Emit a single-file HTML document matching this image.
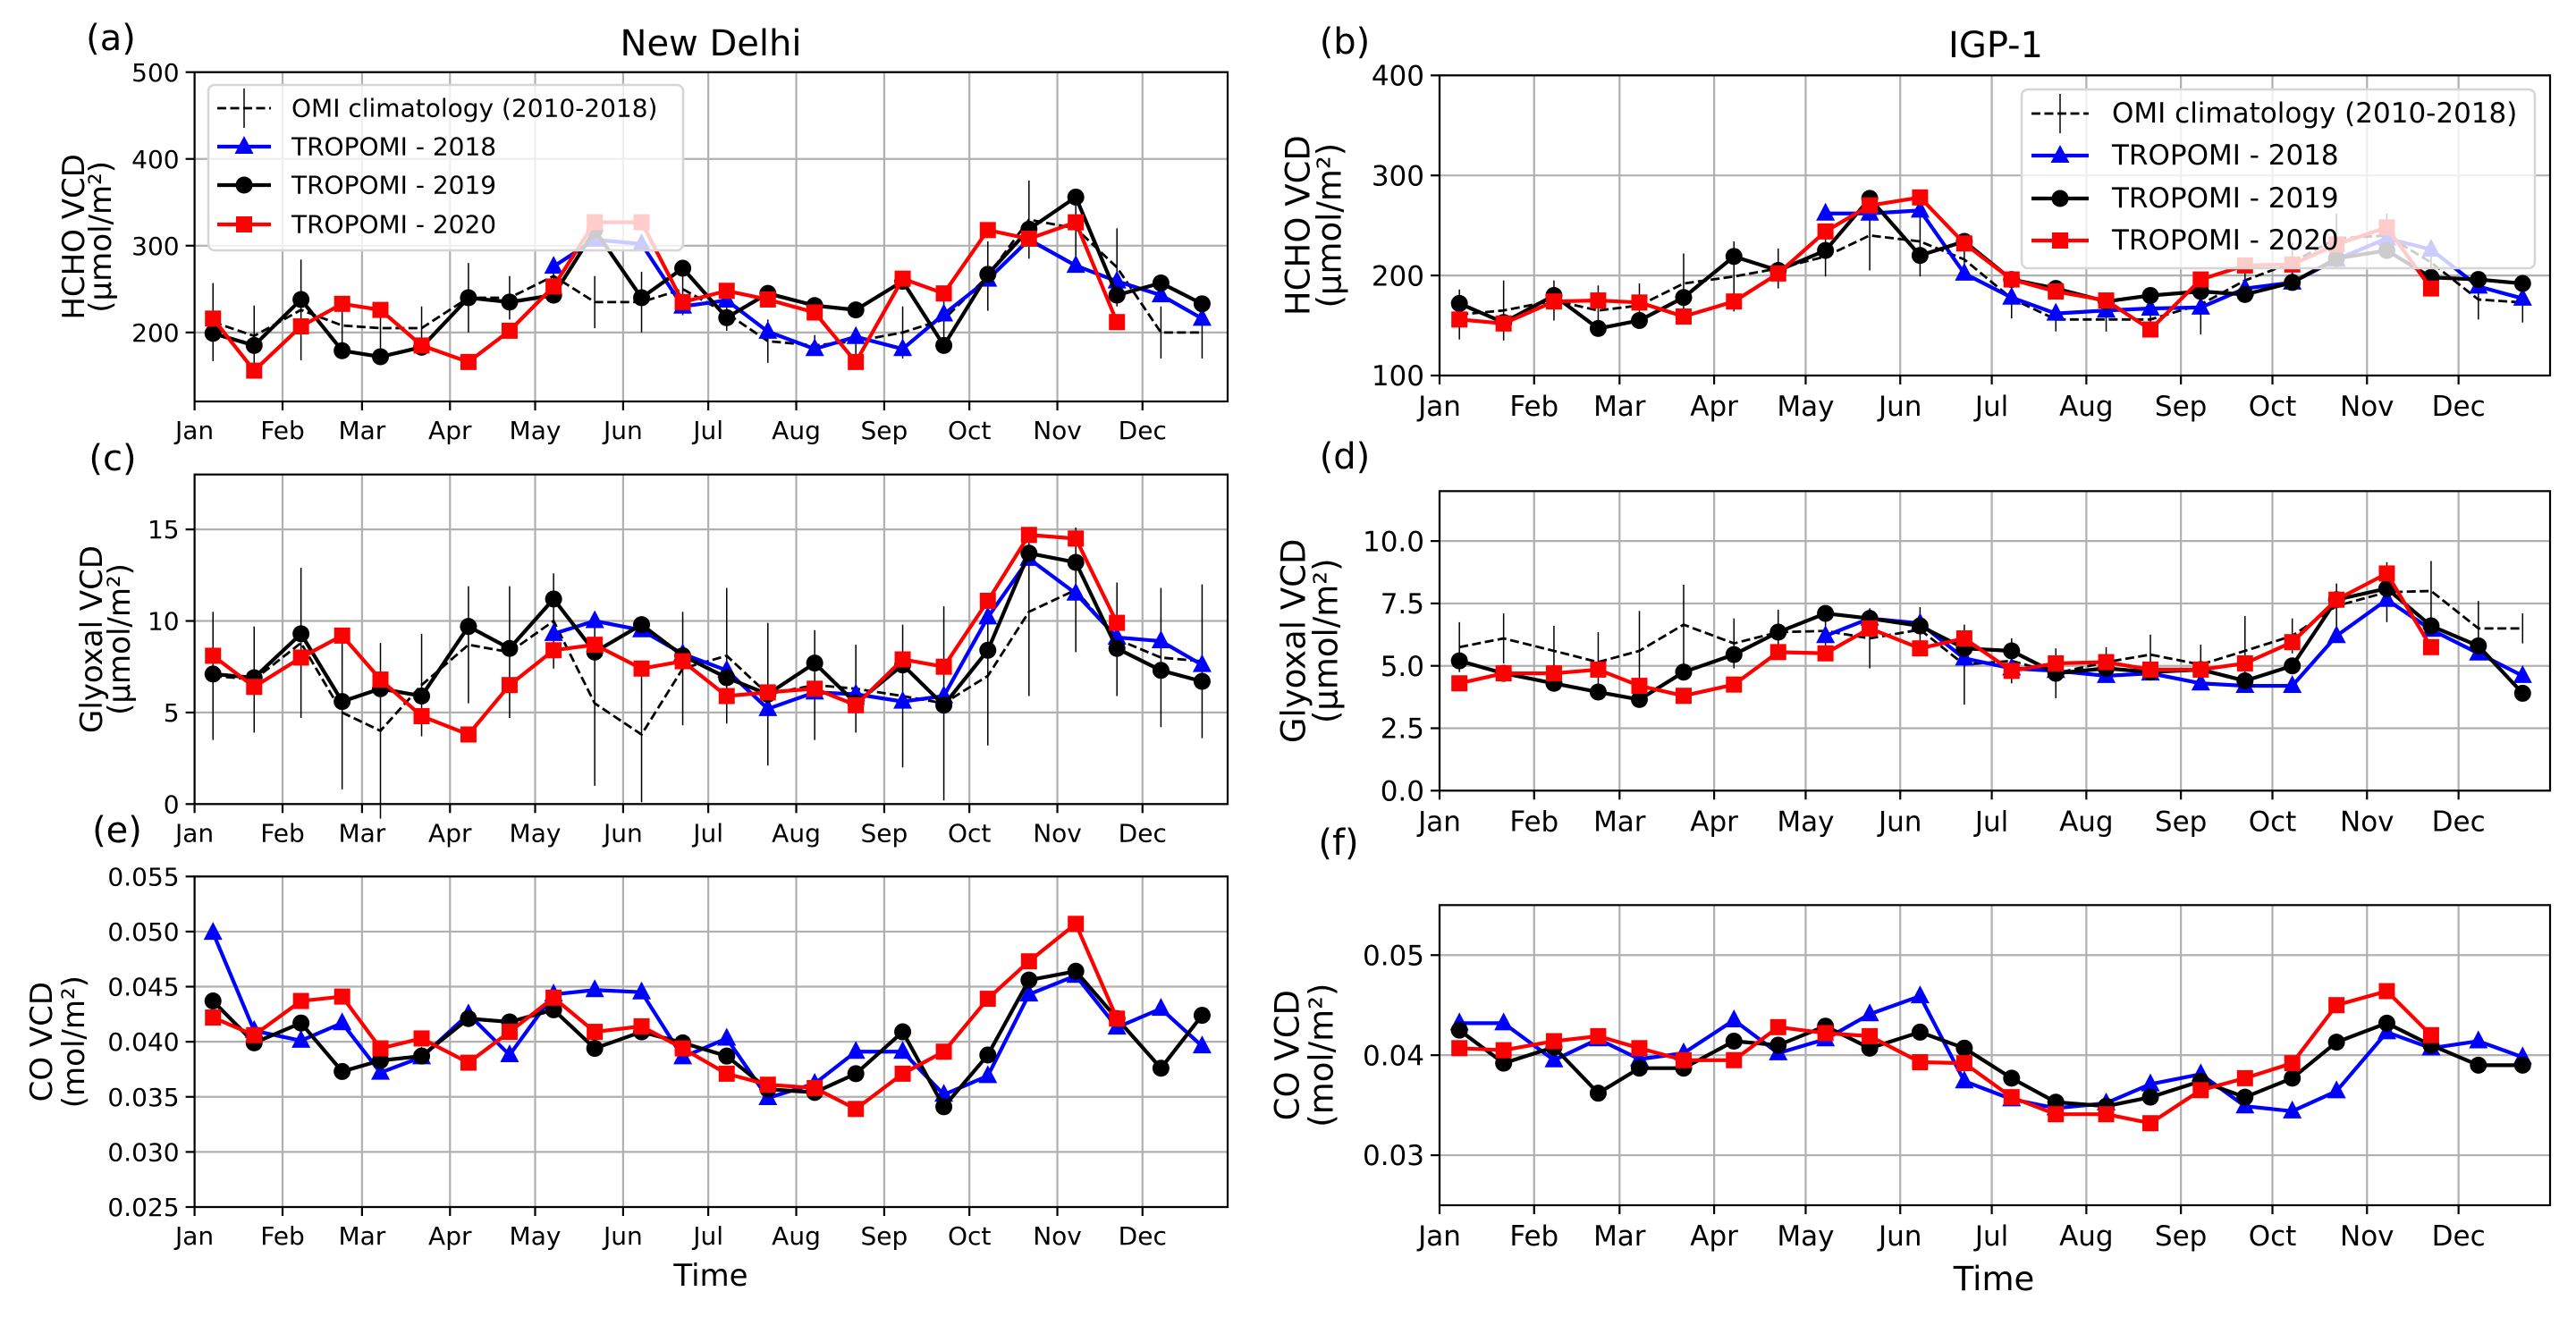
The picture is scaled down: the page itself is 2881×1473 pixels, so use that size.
<!DOCTYPE html>
<html><head><meta charset="utf-8"><style>
html,body{margin:0;padding:0;background:#fff;}
svg{display:block;font-family:"DejaVu Sans","Liberation Sans",sans-serif;}
</style></head><body>
<svg id="fig" width="2881" height="1473" viewBox="0 0 2881 1473" xmlns="http://www.w3.org/2000/svg"></svg>
<script>
// ---- data ----
const months = ["Jan","Feb","Mar","Apr","May","Jun","Jul","Aug","Sep","Oct","Nov","Dec"];
const monthStart = [0,31,59,90,120,151,181,212,243,273,304,334];
// sample days: two per month (~6th and ~21st)
const sampleOffsets = [6.5, 21];

// (a) New Delhi HCHO
const a_clim = [212,196,226,208,205,205,240,240,265,235,235,250,222,190,185,190,200,215,265,330,320,275,200,200];
const a_climErr = [45,35,58,25,25,25,40,25,20,30,35,30,20,25,12,15,30,25,40,45,45,45,30,30];
const a_2018 = [null,null,null,null,null,null,null,null,276,307,302,230,237,201,181,195,181,221,261,307,277,259,243,216];
const a_2019 = [199,185,238,179,172,183,240,235,243,318,240,274,217,245,231,226,259,185,267,319,356,243,257,233];
const a_2020 = [216,156,207,233,226,185,166,202,253,327,327,235,248,238,223,166,262,245,318,308,327,212,null,null];

// (b) IGP-1 HCHO
const b_clim = [161,165,175,165,170,192,199,207,219,240,234,216,177,156,156,156,171,195,213,237,240,213,176,173];
const b_climErr = [25,30,20,25,22,30,35,20,20,35,35,15,20,12,12,15,30,20,20,25,22,20,20,20];
const b_2018 = [null,null,null,null,null,null,null,null,262,262,265,202,178,162,165,167,168,187,193,216,237,226,189,177];
const b_2019 = [172,153,180,147,155,178,219,205,225,277,220,234,196,187,174,180,184,181,193,217,225,198,196,192];
const b_2020 = [156,152,174,175,173,159,174,202,244,270,278,232,196,184,175,146,196,210,211,231,248,187,null,null];

// (c) New Delhi Glyoxal
const c_clim = [7.0,6.8,8.8,5.0,4.0,6.5,8.7,8.3,10.0,5.5,3.8,7.4,8.1,6.0,6.5,6.3,5.9,5.5,7.0,10.5,11.7,9.0,8.0,7.8];
const c_climErr = [3.5,2.9,4.1,4.2,4.8,2.8,3.2,3.6,2.6,4.5,3.7,3.1,3.7,3.9,3.0,2.4,3.9,5.3,3.8,4.6,3.4,3.1,3.8,4.2];
const c_2018 = [null,null,null,null,null,null,null,null,9.3,10.0,9.5,8.2,7.3,5.2,6.1,6.0,5.6,5.9,10.2,13.4,11.5,9.1,8.9,7.6];
const c_2019 = [7.1,6.9,9.3,5.6,6.3,5.9,9.7,8.5,11.2,8.3,9.8,8.1,6.9,6.0,7.7,5.5,7.6,5.4,8.4,13.7,13.2,8.5,7.3,6.7];
const c_2020 = [8.1,6.4,8.0,9.2,6.8,4.8,3.8,6.5,8.4,8.7,7.4,7.8,5.9,6.1,6.3,5.4,7.9,7.5,11.1,14.7,14.5,9.9,null,null];

// (d) IGP-1 Glyoxal
const d_clim = [5.75,6.1,5.6,5.15,5.6,6.65,5.9,6.35,6.4,6.1,6.45,5.05,5.2,4.7,5.15,5.45,5.05,5.6,6.2,7.4,7.95,8.0,6.5,6.5];
const d_climErr = [1.0,1.0,1.0,1.2,1.6,1.6,1.0,0.9,0.8,1.2,0.9,1.6,0.9,1.0,0.6,0.8,0.8,1.4,0.7,0.9,1.2,1.2,1.1,0.6];
const d_2018 = [null,null,null,null,null,null,null,null,6.2,6.9,6.7,5.3,4.9,4.8,4.6,4.7,4.3,4.2,4.2,6.2,7.65,6.45,5.5,4.6];
const d_2019 = [5.2,4.7,4.3,3.95,3.65,4.75,5.45,6.35,7.1,6.9,6.6,5.7,5.6,4.7,4.9,4.75,4.85,4.4,5.0,7.65,8.1,6.6,5.8,3.9];
const d_2020 = [4.3,4.7,4.7,4.85,4.2,3.8,4.25,5.55,5.5,6.5,5.7,6.1,4.8,5.1,5.15,4.85,4.85,5.1,5.95,7.65,8.7,5.75,null,null];

// (e) New Delhi CO
const e_2018 = [0.0499,0.0410,0.0401,0.0417,0.0372,0.0386,0.0425,0.0388,0.0443,0.0447,0.0445,0.0386,0.0403,0.0349,0.0362,0.0391,0.0391,0.0352,0.0369,0.0443,0.0460,0.0413,0.0430,0.0396];
const e_2019 = [0.0437,0.0399,0.0417,0.0373,0.0383,0.0387,0.0421,0.0418,0.0429,0.0394,0.0409,0.0399,0.0387,0.0357,0.0354,0.0371,0.0409,0.0341,0.0388,0.0456,0.0464,0.0421,0.0376,0.0424];
const e_2020 = [0.0422,0.0406,0.0437,0.0441,0.0394,0.0403,0.0381,0.0409,0.0440,0.0409,0.0414,0.0394,0.0371,0.0361,0.0358,0.0339,0.0371,0.0391,0.0439,0.0473,0.0507,0.0421,null,null];

// (f) IGP-1 CO
const f_2018 = [0.0432,0.0432,0.0395,0.0416,0.0396,0.0402,0.0435,0.0402,0.0416,0.0441,0.0459,0.0374,0.0356,0.0347,0.0352,0.0371,0.0381,0.0349,0.0344,0.0364,0.0423,0.0407,0.0414,0.0398];
const f_2019 = [0.0425,0.0392,0.0408,0.0362,0.0387,0.0387,0.0414,0.0410,0.0429,0.0407,0.0423,0.0407,0.0377,0.0353,0.0349,0.0358,0.0374,0.0358,0.0377,0.0413,0.0432,0.0410,0.0390,0.0390];
const f_2020 = [0.0407,0.0405,0.0414,0.0419,0.0407,0.0395,0.0395,0.0428,0.0422,0.0419,0.0393,0.0392,0.0358,0.0341,0.0341,0.0332,0.0365,0.0377,0.0392,0.0450,0.0464,0.0420,null,null];

const a_ticks = [200,300,400,500], b_ticks=[100,200,300,400], c_ticks=[0,5,10,15];
const d_ticks = [0,2.5,5,7.5,10], e_ticks=[0.025,0.030,0.035,0.040,0.045,0.050,0.055], f_ticks=[0.03,0.04,0.05];

// ---- drawing ----
const NS="http://www.w3.org/2000/svg";
const svg=document.getElementById('fig');
function mk(tag, attrs, parent){
  const e=document.createElementNS(NS,tag);
  for(const k in attrs) e.setAttribute(k,attrs[k]);
  (parent||svg).appendChild(e); return e;
}
const days=[];
monthStart.forEach(m=>sampleOffsets.forEach(o=>days.push(m+o)));

function panel(p){
  const g=mk('g',{});
  
  
  const X=d=>p.x0+(d/364)*(p.x1-p.x0);
  const Y=v=>p.y1-(v-p.ylim[0])/(p.ylim[1]-p.ylim[0])*(p.y1-p.y0);
  // grid
  monthStart.forEach(m=>{
    const l=mk('line',{x1:X(m),x2:X(m),y1:p.y0,y2:p.y1,stroke:'#b0b0b0','stroke-width':2.2},g);
    
    
  });
  p.ticks.forEach(t=>{
    const l=mk('line',{x1:p.x0,x2:p.x1,y1:Y(t),y2:Y(t),stroke:'#b0b0b0','stroke-width':2.2},g);
    
    
  });
  // clim
  if(p.clim){
    p.clim.forEach((v,i)=>{
      const e=mk('line',{x1:X(days[i]),x2:X(days[i]),y1:Y(v-p.err[i]),y2:Y(v+p.err[i]),stroke:'#000','stroke-width':1.5},g);
      
      
    });
    const pl=mk('polyline',{points:p.clim.map((v,i)=>X(days[i])+','+Y(v)).join(' '),fill:'none',stroke:'#000','stroke-width':2.8,'stroke-dasharray':'10,4.5'},g);
    
    
  }
  const series=[[p.s18,'#0000ff','tri','tropomi-2018'],[p.s19,'#000','circ','tropomi-2019'],[p.s20,'#ff0000','sq','tropomi-2020']];
  series.forEach(([arr,col,mkType,nm])=>{
    const pts=[];arr.forEach((v,i)=>{if(v!==null)pts.push([X(days[i]),Y(v)]);});
    const pl=mk('polyline',{points:pts.map(q=>q.join(',')).join(' '),fill:'none',stroke:col,'stroke-width':4.2,'stroke-linejoin':'round'},g);
    
    
    pts.forEach(q=>{
      const m=marker(g,mkType,q[0],q[1],col);
      
      
    });
  });
  // spines
  const r=mk('rect',{x:p.x0,y:p.y0,width:p.x1-p.x0,height:p.y1-p.y0,fill:'none',stroke:'#000','stroke-width':2.2},g);
  
  
  // ticks
  monthStart.forEach((m,i)=>{
    mk('line',{x1:X(m),x2:X(m),y1:p.y1,y2:p.y1+10,stroke:'#000','stroke-width':2.2},g);
    const t=mk('text',{x:X(m),y:p.y1+p.xlOff,'text-anchor':'middle','font-size':p.fs},g);
    t.textContent=months[i];
    
    
  });
  p.ticks.forEach(tv=>{
    mk('line',{x1:p.x0-10,x2:p.x0,y1:Y(tv),y2:Y(tv),stroke:'#000','stroke-width':2.2},g);
    const t=mk('text',{x:p.x0-17,y:Y(tv)+p.fs*0.36,'text-anchor':'end','font-size':p.fs},g);
    t.textContent=p.fmt(tv);
    
    
  });
  // ylabel
  const cy=(p.y0+p.y1)/2;
  [p.ylab1,p.ylab2].forEach((s,k)=>{
    const t=mk('text',{x:p.ylx[k],y:cy,'text-anchor':'middle','dominant-baseline':'central','font-size':p.yfs,transform:`rotate(-90 ${p.ylx[k]} ${cy})`},g);
    t.textContent=s;
    
    
  });
  // panel label
  const pl=mk('text',{x:p.lab[0],y:p.lab[1],'text-anchor':'middle','font-size':40},g);
  pl.textContent=p.letter;
  
  
  if(p.title){
    const t=mk('text',{x:p.title[1],y:p.title[2],'text-anchor':'middle','font-size':40},g);
    t.textContent=p.title[0];
    
    
  }
  if(p.xlab){
    const t=mk('text',{x:p.xlab[0],y:p.xlab[1],'text-anchor':'middle','font-size':p.yfs},g);
    t.textContent='Time';
    
    
  }
  if(p.legend) legend(g,p.legend);
}
function marker(g,type,x,y,col){
  if(type==='circ') return mk('circle',{cx:x,cy:y,r:9.5,fill:col},g);
  if(type==='sq') return mk('rect',{x:x-9,y:y-9,width:18,height:18,fill:col},g);
  return mk('polygon',{points:`${x},${y-12} ${x-10.5},${y+8} ${x+10.5},${y+8}`,fill:col},g);
}
function legend(g,L){
  const lg=mk('g',{},g);
  
  
  mk('rect',{x:L.x0,y:L.y0,width:L.x1-L.x0,height:L.y1-L.y0,rx:7,fill:'#fff','fill-opacity':0.8,stroke:'#d6d6d6','stroke-width':2.5},lg);
  const labels=['OMI climatology (2010-2018)','TROPOMI - 2018','TROPOMI - 2019','TROPOMI - 2020'];
  const cols=['#000','#0000ff','#000','#ff0000'];
  const types=[null,'tri','circ','sq'];
  labels.forEach((s,i)=>{
    const y=L.rows[i], hc=(L.h0+L.h1)/2;
    const e=mk('g',{},lg);
    
    
    if(i===0){
      mk('line',{x1:L.h0,x2:L.h1,y1:y,y2:y,stroke:'#000','stroke-width':2.8,'stroke-dasharray':'10,4.5'},e);
      mk('line',{x1:hc,x2:hc,y1:y-22,y2:y+22,stroke:'#000','stroke-width':1.5},e);
    } else {
      mk('line',{x1:L.h0,x2:L.h1,y1:y,y2:y,stroke:cols[i],'stroke-width':4.2},e);
      marker(e,types[i],hc,y,cols[i]);
    }
    const t=mk('text',{x:L.tx,y:y,'dominant-baseline':'central','font-size':L.fs},e);
    t.textContent=s;
  });
}
const fmtInt=v=>String(v), fmt1=v=>v.toFixed(1), fmt3=v=>v.toFixed(3), fmt2=v=>v.toFixed(2);
const L={x0:217.6,x1:1373}, R={x0:1610,x1:2852};
panel({name:'panel-a-new-delhi-hcho',letter:'(a)',lab:[124,56],title:['New Delhi',795,62],...L,y0:80.7,y1:449,ylim:[120.5,500],ticks:a_ticks,fmt:fmtInt,
  clim:a_clim,err:a_climErr,s18:a_2018,s19:a_2019,s20:a_2020,fs:28,yfs:34,xlOff:42,ylab1:'HCHO VCD',ylab2:'(μmol/m²)',ylx:[83,113],
  legend:{x0:233,x1:764,y0:95,y1:280,rows:[121,164,207,251],h0:243,h1:303,tx:326,fs:28}});
panel({name:'panel-b-igp1-hcho',letter:'(b)',lab:[1504,60],title:['IGP-1',2232,64],...R,y0:84.3,y1:420,ylim:[100,400],ticks:b_ticks,fmt:fmtInt,
  clim:b_clim,err:b_climErr,s18:b_2018,s19:b_2019,s20:b_2020,fs:31,yfs:37,xlOff:45,ylab1:'HCHO VCD',ylab2:'(μmol/m²)',ylx:[1452,1487],
  legend:{x0:2261,x1:2835,y0:100,y1:300,rows:[127,174,222,269],h0:2272,h1:2336,tx:2362,fs:31}});
panel({name:'panel-c-new-delhi-glyoxal',letter:'(c)',lab:[126,526],...L,y0:530.7,y1:899.3,ylim:[0,18],ticks:c_ticks,fmt:fmtInt,
  clim:c_clim,err:c_climErr,s18:c_2018,s19:c_2019,s20:c_2020,fs:28,yfs:34,xlOff:42,ylab1:'Glyoxal VCD',ylab2:'(μmol/m²)',ylx:[103,134]});
panel({name:'panel-d-igp1-glyoxal',letter:'(d)',lab:[1504,524],...R,y0:549.3,y1:884.3,ylim:[0,12],ticks:d_ticks,fmt:fmt1,
  clim:d_clim,err:d_climErr,s18:d_2018,s19:d_2019,s20:d_2020,fs:31,yfs:37,xlOff:45,ylab1:'Glyoxal VCD',ylab2:'(μmol/m²)',ylx:[1447,1483]});
panel({name:'panel-e-new-delhi-co',letter:'(e)',lab:[131,942],xlab:[795,1438],...L,y0:980.3,y1:1350,ylim:[0.025,0.055],ticks:e_ticks,fmt:fmt3,
  s18:e_2018,s19:e_2019,s20:e_2020,fs:28,yfs:34,xlOff:42,ylab1:'CO VCD',ylab2:'(mol/m²)',ylx:[47,83]});
panel({name:'panel-f-igp1-co',letter:'(f)',lab:[1497,956],xlab:[2230,1443],...R,y0:1012.3,y1:1348,ylim:[0.025,0.055],ticks:f_ticks,fmt:fmt2,
  s18:f_2018,s19:f_2019,s20:f_2020,fs:31,yfs:37,xlOff:45,ylab1:'CO VCD',ylab2:'(mol/m²)',ylx:[1440,1478]});
</script>
</body></html>
